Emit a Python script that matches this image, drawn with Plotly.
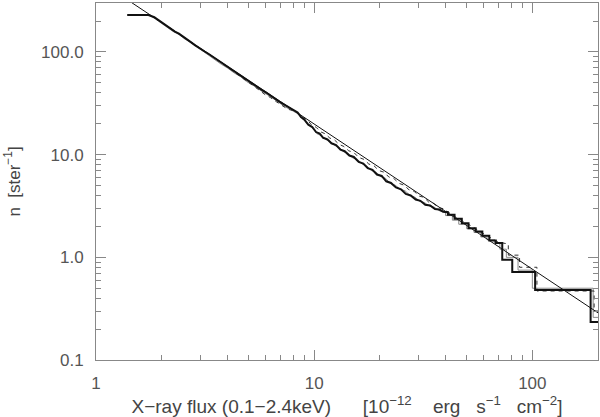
import plotly.graph_objects as go

# Power-law fit line (endpoints)
fit_x = [1.0, 200.0]
fit_y = [515.0, 0.288]

# Thick curve (step corners at the bright end repeated)
thick_x = [1.39, 1.74, 1.85, 2.0, 2.1, 2.2, 2.3, 2.4, 2.5, 2.6, 2.73, 2.85, 3.0, 3.15, 3.3, 3.45,
           3.6, 3.8, 4.0, 4.2, 4.4, 4.6, 4.8, 5.0, 5.25, 5.5, 5.75, 6.0, 6.3, 6.6, 6.9, 7.2, 7.5,
           7.8, 8.1, 8.4, 8.7, 9.0, 9.4, 9.8, 10.2, 10.6, 11.0, 11.5, 12.0, 12.6, 13.2, 13.8,
           14.5, 15.2, 16.0, 16.8, 17.6, 18.5, 19.4, 20.4, 21.4, 22.5, 23.7, 25.0, 26.3, 27.7,
           29.2, 30.7, 32.3, 34.0, 35.8, 37.5, 39.0, 41.0, 41.0, 44.0, 44.0,
           47.5, 47.5, 51.0, 51.0, 55.0, 55.0, 59.0, 59.0, 63.5, 63.5, 68.0, 68.0, 72.8, 72.8,
           80.9, 80.9, 103.0, 103.0, 185.0, 185.0, 200.0]
thick_y = [229, 229, 218, 194, 181, 170, 158, 151, 141, 133, 124, 116, 109, 101, 95, 89,
           85, 77.5, 72.5, 68, 63, 59.5, 55.5, 52.5, 49, 45, 42.8, 40.5, 37.5, 35.2, 33.0, 31.2, 29.6,
           28.0, 26.8, 25.8, 23.2, 22.0, 19.6, 18.6, 16.6, 16.0, 14.6, 14.1, 12.9, 12.4, 11.2, 10.8,
           9.8, 9.5, 8.5, 8.2, 7.4, 7.1, 6.4, 6.2, 5.5, 5.3, 4.8, 4.6, 4.15, 4.0,
           3.65, 3.55, 3.25, 3.2, 2.95, 2.92, 2.78, 2.75, 2.6, 2.6, 2.37,
           2.37, 2.15, 2.15, 1.92, 1.92, 1.78, 1.78, 1.62, 1.62, 1.46, 1.46, 1.38, 1.38, 0.946,
           0.946, 0.72, 0.72, 0.48, 0.48, 0.235, 0.235]

# Thin grey curve
thin_x = [1.8, 1.95, 2.1, 2.25, 2.4, 2.55, 2.7, 2.9, 3.1, 3.3, 3.5, 3.75, 4.0, 4.3, 4.6, 4.9,
          5.2, 5.5, 5.85, 6.2, 6.6, 7.0, 7.4, 7.8, 8.2, 8.5, 8.8, 9.1, 9.5, 9.9, 10.3, 10.8,
          11.3, 11.8, 12.4, 13.0, 13.6, 14.3, 15.0, 15.8, 16.6, 17.4, 18.3, 19.2, 20.2, 21.2,
          22.3, 23.5, 24.8, 26.1, 27.5, 29.0, 30.5, 32.0, 33.8, 35.5, 37.3, 39.0,
          40.0, 40.0, 43.0, 43.0, 46.0, 46.0, 50.0, 50.0, 54.0, 54.0, 58.0, 58.0,
          62.0, 62.0, 67.0, 67.0, 71.0, 71.0, 76.0, 76.0, 86.0, 86.0, 100.0, 100.0, 190.0, 190.0, 200.0]
thin_y = [222, 197, 178, 159, 148, 134, 125, 112, 102, 91, 84, 76, 70, 62.5, 57.5, 51.5,
          48, 44, 40.5, 37.6, 34.2, 31.8, 29.0, 27.5, 26.0, 24.6, 22.5, 21.2, 19.0, 18.0, 16.0, 15.3,
          14.0, 13.5, 12.3, 11.8, 10.7, 10.3, 9.3, 9.0, 8.1, 7.8, 7.0, 6.75, 6.1, 5.9,
          5.25, 5.05, 4.6, 4.45, 4.0, 3.85, 3.5, 3.42, 3.15, 3.08, 2.85, 2.8,
          2.75, 2.55, 2.55, 2.3, 2.3, 2.1, 2.1, 1.9, 1.9, 1.75, 1.75, 1.58,
          1.58, 1.48, 1.48, 1.38, 1.38, 1.2, 1.2, 1.0, 1.0, 0.75, 0.75, 0.5, 0.5, 0.26, 0.26]

# Dashed curve
dash_x = [1.9, 2.05, 2.2, 2.35, 2.5, 2.7, 2.9, 3.1, 3.3, 3.55, 3.8, 4.05, 4.3, 4.6, 4.9, 5.25,
          5.6, 5.95, 6.3, 6.7, 7.1, 7.55, 8.0, 8.5, 8.9, 9.3, 9.7, 10.2, 10.7, 11.2, 11.8, 12.4,
          13.0, 13.7, 14.4, 15.2, 16.0, 16.9, 17.8, 18.8, 19.8, 20.9, 22.0, 23.2, 24.5, 25.8,
          27.2, 28.7, 30.2, 31.8, 33.5, 35.3, 37.2, 39.0, 41.0, 44.0,
          48.0, 53.0, 58.0, 64.0, 70.0, 77.6, 77.6, 87.4, 87.4, 105.0, 105.0, 192.0, 192.0, 200.0]
dash_y = [208, 186, 170, 155, 142, 126, 114, 103, 95, 84.5, 77, 70, 64, 57.5, 52, 46.5,
          42.5, 38.5, 36.0, 32.8, 30.5, 27.8, 26.8, 25.0, 23.0, 21.8, 19.6, 18.5, 16.7, 16.0, 14.5, 13.9,
          12.6, 12.0, 10.9, 10.5, 9.4, 9.0, 8.1, 7.8, 7.0, 6.75, 6.05, 5.85, 5.25, 5.05,
          4.55, 4.4, 3.95, 3.85, 3.45, 3.35, 3.05, 2.98, 2.78, 2.5,
          2.25, 2.0, 1.76, 1.56, 1.4, 1.35, 1.05, 1.05, 0.8, 0.8, 0.47, 0.47, 0.3, 0.3]

x_ticks = [1, 10, 100]
x_ticktext = ["1", "10", "100"]
y_ticks = [0.1, 1, 10, 100]
y_ticktext = ["0.1", "1.0", "10.0", "100.0"]

FONT = "Liberation Sans, Arial, sans-serif"
NB = "\u00a0"

fig = go.Figure()
fig.add_trace(go.Scatter(x=thin_x, y=thin_y, mode="lines", line=dict(color="#888888", width=1)))
fig.add_trace(go.Scatter(x=dash_x, y=dash_y, mode="lines", line=dict(color="#333333", width=1, dash="4px,4px")))
fig.add_trace(go.Scatter(x=thick_x, y=thick_y, mode="lines", line=dict(color="#111111", width=2)))
fig.add_trace(go.Scatter(x=fit_x, y=fit_y, mode="lines", line=dict(color="#111111", width=1)))

minor_x = [v * d for d in (1, 10, 100) for v in range(2, 10) if v * d <= 200]
minor_y = [round(v * d, 3) for d in (0.1, 1, 10, 100) for v in range(2, 10) if v * d <= 300]

axis_common = dict(
    type="log", showgrid=False, zeroline=False, showline=True, linecolor="#888888", linewidth=1,
    mirror="ticks", ticks="inside", ticklen=10, tickcolor="#888888", tickwidth=1, automargin=False,
    tickfont=dict(family=FONT, size=17, color="#555555"),
)

x_title = ("X\u2212ray" + NB + "flux" + NB + "(0.1\u22122.4keV)" + NB * 6 +
           "[10<sup>\u221212</sup>" + NB * 4 + "erg" + NB * 3 + "s<sup>\u22121</sup>" + NB * 3 +
           "cm<sup>\u22122</sup>]")

fig.update_xaxes(**axis_common, range=[0, 2.301], tickmode="array", tickvals=x_ticks, ticktext=x_ticktext,
                 minor=dict(ticks="inside", ticklen=5, tickcolor="#888888", tickmode="array", tickvals=minor_x),
                 ticklabelstandoff=8,
                 title=dict(text=x_title, font=dict(family=FONT, size=19, color="#444444"), standoff=1))
fig.update_yaxes(**axis_common, range=[-1, 2.477], tickmode="array", tickvals=y_ticks, ticktext=y_ticktext,
                 minor=dict(ticks="inside", ticklen=5, tickcolor="#888888", tickmode="array", tickvals=minor_y),
                 ticklabelstandoff=8,
                 title=dict(text="n" + NB * 2 + "[ster<sup>\u22121</sup>]",
                            font=dict(family=FONT, size=17, color="#444444"), standoff=16))

fig.update_layout(
    width=600, height=417, showlegend=False,
    margin=dict(l=96, r=2, t=3, b=57),
    plot_bgcolor="white", paper_bgcolor="white",
)

fig.write_html("out.html", config={"displayModeBar": False},
               post_script="document.body.style.margin='0';")
